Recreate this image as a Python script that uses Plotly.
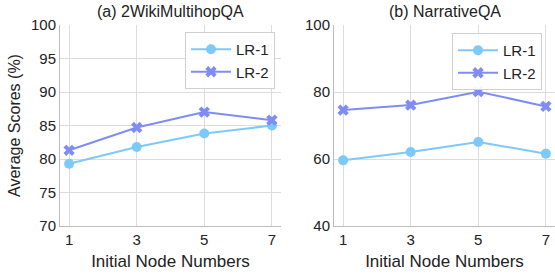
import plotly.graph_objects as go

nodes = [1, 3, 5, 7]
wiki_lr1 = [79.3, 81.8, 83.8, 85.0]
wiki_lr2 = [81.3, 84.7, 87.0, 85.8]
narr_lr1 = [59.6, 62.1, 65.1, 61.6]
narr_lr2 = [74.6, 76.1, 80.1, 75.7]
titles = ["(a) 2WikiMultihopQA", "(b) NarrativeQA"]
series_names = ["LR-1", "LR-2"]

C1 = "#7cc9fc"
C2 = "#7f8cf3"
W, H = 555, 279
FONT = "Liberation Sans, Arial, sans-serif"
TXT = "#222222"

fig = go.Figure()

def add(x, y, name, color, sym, xa, ya, leg):
    fig.add_trace(go.Scatter(
        x=x, y=y, name=name, mode="lines+markers",
        line=dict(color=color, width=2),
        marker=dict(symbol=sym, size=10, color=color, line=dict(width=0)),
        xaxis=xa, yaxis=ya, legend=leg, showlegend=True))

add(nodes, wiki_lr1, series_names[0], C1, "circle", "x", "y", "legend")
add(nodes, wiki_lr2, series_names[1], C2, "x", "x", "y", "legend")
add(nodes, narr_lr1, series_names[0], C1, "circle", "x2", "y2", "legend2")
add(nodes, narr_lr2, series_names[1], C2, "x", "x2", "y2", "legend2")

ydom = [1 - 226 / H, 1 - 25 / H]
TICKF = dict(size=15, color=TXT, family=FONT)
common_x = dict(range=[0.73, 7.27], tickvals=nodes, showgrid=True, gridcolor="#dddddd",
                gridwidth=1, showline=True, linecolor="#bbbbbb", linewidth=1,
                zeroline=False, ticks="", tickfont=TICKF,
                title=dict(text="Initial Node Numbers", font=dict(size=17, color=TXT, family=FONT),
                           standoff=8))
common_y = dict(showgrid=True, gridcolor="#dddddd", gridwidth=1, showline=True,
                linecolor="#bbbbbb", linewidth=1, zeroline=False, ticks="",
                tickfont=TICKF)
LEGF = dict(size=15, color=TXT, family=FONT)

fig.update_layout(
    width=W, height=H,
    margin=dict(l=0, r=0, t=0, b=0, autoexpand=False),
    paper_bgcolor="white", plot_bgcolor="white",
    font=dict(family=FONT, color=TXT),
    xaxis=dict(domain=[60 / W, 281 / W], anchor="y", **common_x),
    xaxis2=dict(domain=[334 / W, 1.0], anchor="y2", **common_x),
    yaxis=dict(domain=ydom, range=[70, 100], tickvals=[70, 75, 80, 85, 90, 95, 100],
               anchor="x",
               title=dict(text="Average Scores (%)", font=dict(size=16, color=TXT, family=FONT),
                          standoff=6),
               **common_y),
    yaxis2=dict(domain=ydom, range=[40, 100], tickvals=[40, 60, 80, 100], anchor="x2",
                **common_y),
    legend=dict(x=275 / W, y=1 - 32 / H, xanchor="right", yanchor="top",
                bgcolor="rgba(255,255,255,0.9)", bordercolor="#d0d0d0", borderwidth=1,
                font=LEGF, itemwidth=40, traceorder="normal"),
    legend2=dict(x=542 / W, y=1 - 33 / H, xanchor="right", yanchor="top",
                 bgcolor="rgba(255,255,255,0.9)", bordercolor="#d0d0d0", borderwidth=1,
                 font=LEGF, itemwidth=40, traceorder="normal"),
    annotations=[
        dict(text=titles[0], x=170.5 / W, y=1 - 12 / H, xref="paper", yref="paper",
             xanchor="center", yanchor="middle", showarrow=False,
             font=dict(size=16, color=TXT, family=FONT)),
        dict(text=titles[1], x=444.5 / W, y=1 - 12 / H, xref="paper", yref="paper",
             xanchor="center", yanchor="middle", showarrow=False,
             font=dict(size=16, color=TXT, family=FONT)),
    ],
)

fig.write_html("out.html", config={"displayModeBar": False},
               post_script="document.body.style.margin='0';")
